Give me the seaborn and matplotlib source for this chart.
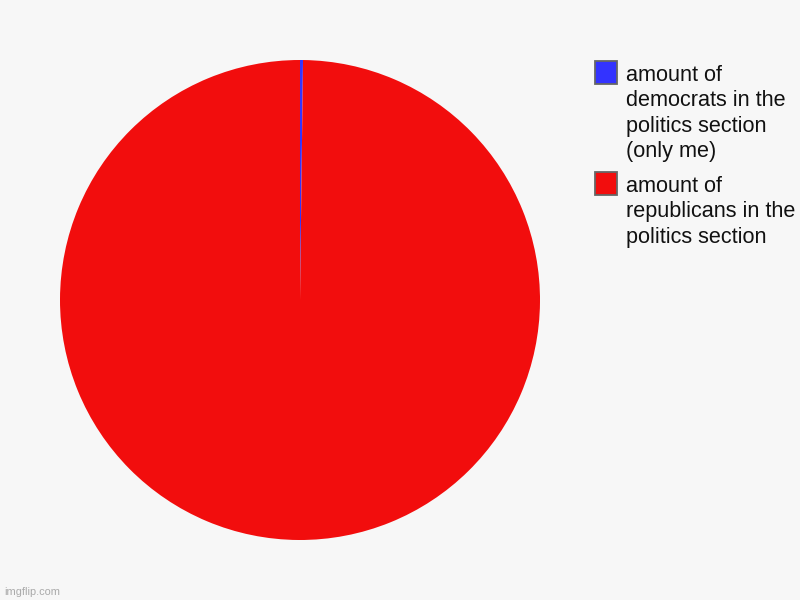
import matplotlib
matplotlib.use("Agg")
import matplotlib.pyplot as plt
import seaborn as sns
from matplotlib.patches import Rectangle

categories = ["amount of\ndemocrats in the\npolitics section\n(only me)",
              "amount of\nrepublicans in the\npolitics section"]
values = [1, 500]
colors = ["#3333ff", "#f20d0d"]

sns.set_style("white")
plt.rcParams["font.family"] = ["Liberation Sans", "DejaVu Sans"]

W, H = 800, 600
fig = plt.figure(figsize=(8, 6), dpi=100, facecolor="#f7f7f7")
ax = fig.add_axes([60/W, 60/H, 480/W, 480/H])
ax.set_facecolor("#f7f7f7")
ax.pie(values, colors=colors, startangle=90, counterclock=False,
       wedgeprops=dict(linewidth=0), radius=1)
ax.set_aspect("equal")
ax.set_xlim(-1, 1)
ax.set_ylim(-1, 1)
ax.axis("off")

# legend (drawn manually to match top-aligned handles)
entry_top = [61, 172]
line_h = 25.3
for label, color, top in zip(categories, colors, entry_top):
    fig.patches.append(Rectangle((595/W, 1 - (top + 23)/H), 22/W, 23/H,
                                 transform=fig.transFigure, facecolor=color,
                                 edgecolor="#666666", linewidth=1.3))
    for i, line in enumerate(label.split("\n")):
        fig.text(626/W, 1 - (top + 20 + i * line_h)/H, line, fontsize=15.6,
                 color="#111111", ha="left", va="baseline")

fig.text(4/W, 1 - 595/H, "imgflip.com", fontsize=7.9, color="#aaaaaa",
         va="baseline", ha="left")

fig.savefig("out.png", dpi=100, facecolor=fig.get_facecolor())
